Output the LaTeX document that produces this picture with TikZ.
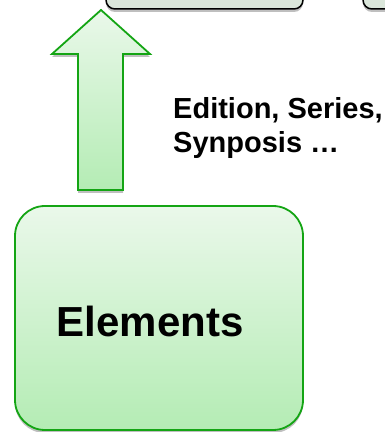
\documentclass[tikz,border=0pt]{standalone}
\usepackage{fontspec}
\setmainfont{Liberation Sans}
\usetikzlibrary{shadows}
\definecolor{gborder}{RGB}{20,165,20}
\definecolor{gtop}{RGB}{234,248,234}
\definecolor{gbot}{RGB}{180,236,180}
\definecolor{boxgray}{RGB}{218,230,218}
\tikzset{
  gshadow/.style={drop shadow={shadow xshift=0pt,shadow yshift=-3pt,opacity=0.25,fill=black}},
  topbox/.style={draw=black,line width=1.5pt,fill=boxgray,rounded corners=9pt,gshadow},
  greenbox/.style={draw=gborder,line width=1.8pt,top color=gtop,bottom color=gbot,rounded corners=30pt,gshadow,
    font=\fontsize{42}{50}\selectfont\bfseries},
  greenarrow/.style={draw=gborder,line width=1.8pt,top color=gtop,bottom color=gbot,gshadow},
  lbl/.style={font=\fontsize{29}{34.5}\selectfont\bfseries,align=left,inner sep=0pt}
}
\begin{document}
\begin{tikzpicture}[x=1pt,y=1pt]
\useasboundingbox (0,0) rectangle (385,432);
\clip (0,0) rectangle (385,432);
\fill[white] (0,0) rectangle (385,432);
% top boxes (cut off at top)
\node[topbox,minimum width=197pt,minimum height=70pt,inner sep=0pt] (t1) at (204.5,458) {};
\node[topbox,minimum width=197pt,minimum height=70pt,inner sep=0pt] (t2) at (461.5,458) {};
% arrow
\path[greenarrow] (78,242) -- (78,378) -- (52,378) -- (101,422) -- (150,378) -- (123,378) -- (123,242) -- cycle;
% elements box
\node[greenbox,minimum width=288pt,minimum height=224pt,inner sep=0pt] (el) at (159,114) {Elements\phantom{\rule{18pt}{38pt}}};
% label
\node[lbl,anchor=base west] (lab) at (173,279) {Edition, Series,\\Synposis …};
\end{tikzpicture}
\end{document}
